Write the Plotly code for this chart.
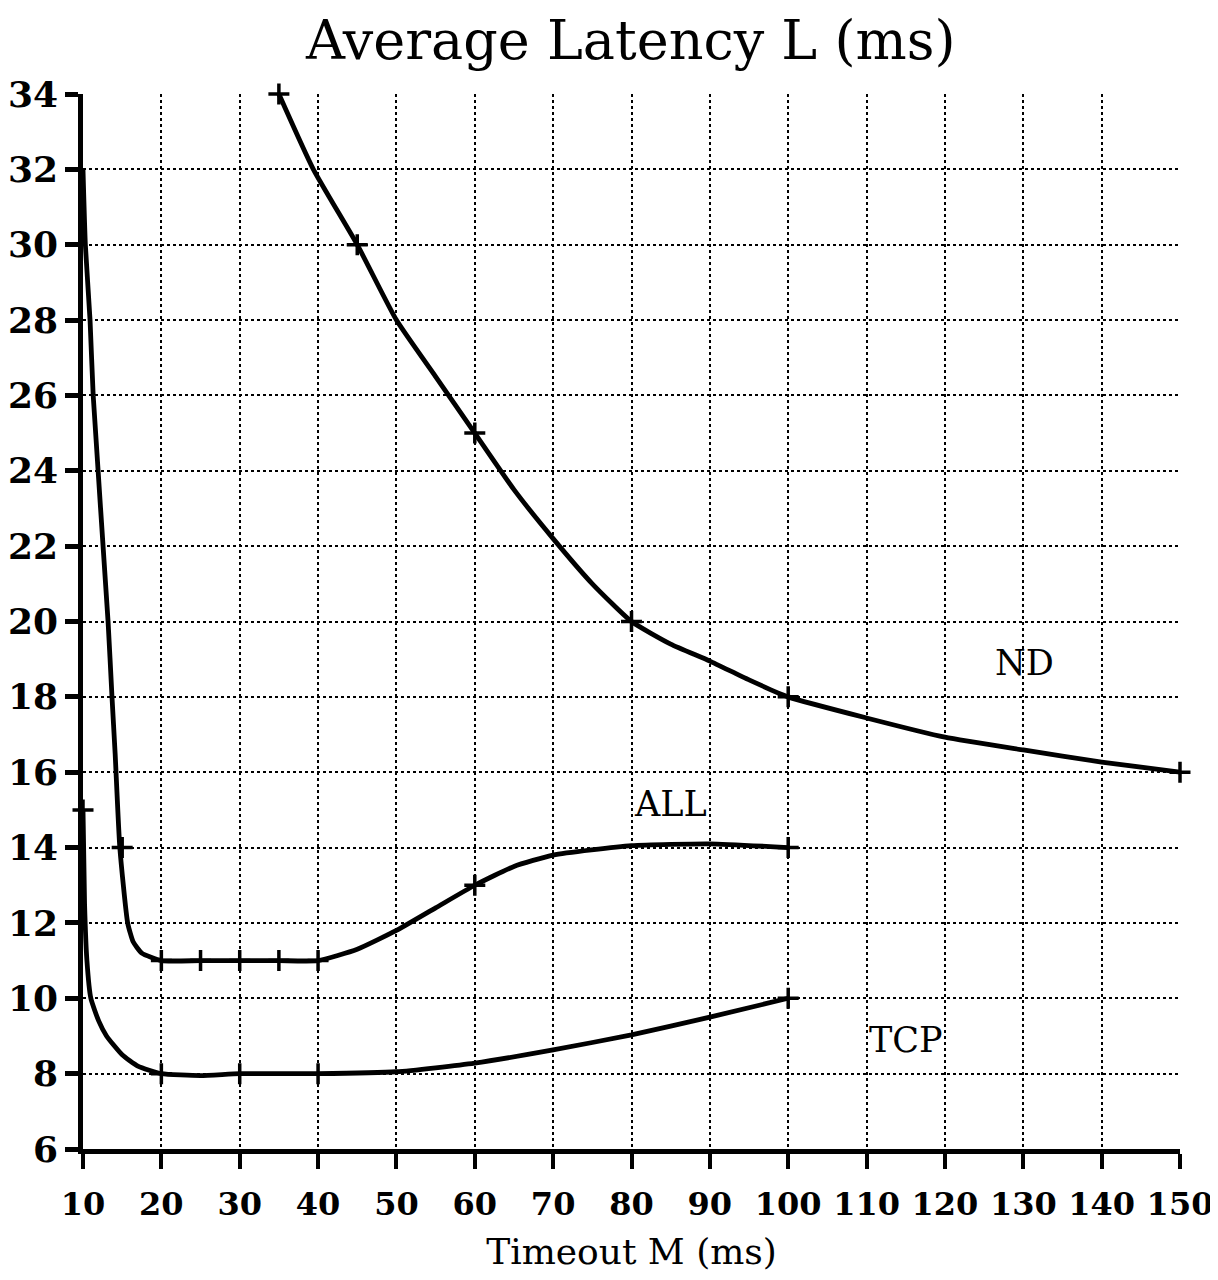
import plotly.graph_objects as go

# ---- data ----
x_ticks = [10, 20, 30, 40, 50, 60, 70, 80, 90, 100, 110, 120, 130, 140, 150]
y_ticks = [6, 8, 10, 12, 14, 16, 18, 20, 22, 24, 26, 28, 30, 32, 34]

# curve samples
tcp_x = [10, 10.2, 10.5, 11, 12, 13, 15, 17, 20, 25, 30, 40, 50, 60, 70, 80, 90, 100]
tcp_y = [15, 12.5, 11, 10, 9.4, 9.0, 8.5, 8.2, 8.0, 7.95, 8.0, 8.0, 8.05, 8.28, 8.63, 9.03, 9.5, 10]

all_x = [10, 10.3, 10.9, 11.3, 13.2, 13.7, 14.1, 14.7, 15.7, 16.4, 17.5, 20, 25, 30, 35, 40, 45, 50, 55, 60, 65, 70, 80, 90, 100]
all_y = [32, 30, 28, 26, 20, 18, 16.5, 14, 12, 11.5, 11.2, 11, 11, 11, 11, 11, 11.3, 11.8, 12.4, 13, 13.5, 13.8, 14.05, 14.1, 14]

nd_x = [35, 39.4, 45, 50, 55, 60, 65, 70, 75, 80, 85, 90, 95, 100, 110, 120, 130, 140, 150]
nd_y = [34, 32, 30, 28, 26.5, 25, 23.5, 22.2, 21, 20, 19.4, 18.95, 18.45, 18, 17.44, 16.93, 16.59, 16.27, 16]

# measured points (markers)
tcp_mx = [10, 20, 30, 40, 100]
tcp_my = [15, 8, 8, 8, 10]
all_mx = [15, 20, 25, 30, 35, 40, 60, 100]
all_my = [14, 11, 11, 11, 11, 11, 13, 14]
nd_mx = [35, 45, 60, 80, 100, 150]
nd_my = [34, 30, 25, 20, 18, 16]

labels = ["TCP", "ALL", "ND"]
label_x = [115, 85, 130.2]
label_y = [8.9, 15.15, 18.9]

FONT = "DejaVu Serif"

fig = go.Figure()
for xs, ys in [(tcp_x, tcp_y), (all_x, all_y), (nd_x, nd_y)]:
    fig.add_trace(go.Scatter(x=xs, y=ys, mode="lines",
                             line=dict(color="black", width=4.8, shape="spline", smoothing=0.5),
                             showlegend=False, hoverinfo="skip", cliponaxis=False))
for xs, ys in [(tcp_mx, tcp_my), (all_mx, all_my), (nd_mx, nd_my)]:
    fig.add_trace(go.Scatter(x=xs, y=ys, mode="markers",
                             marker=dict(symbol="cross-thin", size=15, color="black",
                                         line=dict(color="black", width=3.5)),
                             showlegend=False, cliponaxis=False))

for t, lx, ly in zip(labels, label_x, label_y):
    fig.add_annotation(x=lx, y=ly, text=t, showarrow=False,
                       font=dict(family=FONT, size=35, color="black"))

fig.add_annotation(xref="paper", yref="paper", x=0.4986, y=1.051,
                   text="Average Latency L (ms)", showarrow=False,
                   font=dict(family=FONT, size=54, color="black"),
                   xanchor="center", yanchor="middle")

fig.update_xaxes(range=[10, 150], tickvals=x_ticks, ticktext=[str(v) for v in x_ticks],
                 showline=True, linecolor="black", linewidth=4.5,
                 ticks="outside", ticklen=15, tickwidth=3.5, tickcolor="black",
                 ticklabelstandoff=8,
                 showgrid=True, gridcolor="black", gridwidth=1.5, griddash="dot",
                 zeroline=False, automargin=False,
                 tickfont=dict(family=FONT, size=32, color="black", weight="bold"),
                 title=dict(text="Timeout M (ms)", standoff=18,
                            font=dict(family=FONT, size=36, color="black")))
fig.update_yaxes(range=[6, 34], tickvals=y_ticks, ticktext=[str(v) for v in y_ticks],
                 showline=True, linecolor="black", linewidth=4.5,
                 ticks="outside", ticklen=13, tickwidth=4.5, tickcolor="black",
                 showgrid=True, gridcolor="black", gridwidth=1.5, griddash="dot",
                 zeroline=False, automargin=False,
                 tickfont=dict(family=FONT, size=36, color="black", weight="bold"))

# page body has an 8px margin: figure spans x 8..1218, y 8..1280
fig.update_layout(width=1210, height=1272,
                  margin=dict(l=75, r=38, t=86, b=131),
                  paper_bgcolor="white", plot_bgcolor="white",
                  showlegend=False)

fig.write_html("out.html")
